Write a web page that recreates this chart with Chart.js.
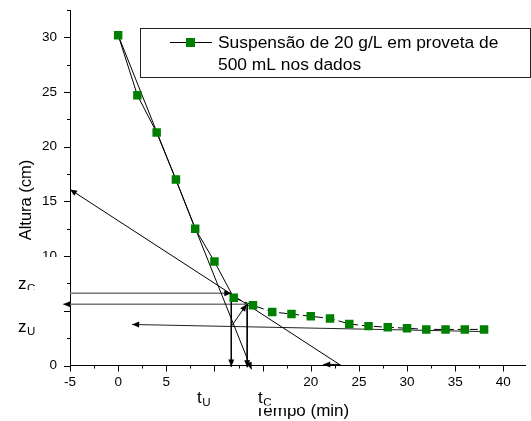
<!DOCTYPE html>
<html>
<head>
<meta charset="utf-8">
<script src="https://cdn.jsdelivr.net/npm/chart.js@4.4.0/dist/chart.umd.min.js"></script>
<style>
html, body { margin: 0; padding: 0; background: #fff; }
</style>
</head>
<body>
<canvas id="chart" width="531" height="421"></canvas>
<script>
// settling test
const timeMin = [0, 2, 4, 6, 8, 10, 12, 14, 16, 18, 20, 22, 24, 26, 28, 30, 32, 34, 36, 38]
const heightCm = [30.2, 24.7, 21.3, 17.0, 12.5, 9.5, 6.2, 5.5, 4.9, 4.7, 4.5, 4.3, 3.8, 3.6, 3.5, 3.4, 3.3, 3.3, 3.3, 3.3]

const xMajor = [-5, 0, 5, 10, 15, 20, 25, 30, 35, 40]
const xLabels = ["-5", "0", "5", "", "", "20", "25", "30", "35", "40"]
const xMinor = [-2.5, 2.5, 7.5, 12.5, 17.5, 22.5, 27.5, 32.5, 37.5]
const yMajor = [0, 5, 10, 15, 20, 25, 30]
const yLabels = ["0", "", "10", "15", "20", "25", "30"]
const yMinor = [2.5, 7.5, 12.5, 17.5, 22.5, 27.5, 32.5]

// construction lines [x, y], arrow drawn at the last point
const initialTangent = [[0, 30.2], [13.85, -0.35]]
const compressionTangent = [[23.15, 0], [-5, 16.1]]
const zcLine = [[-5, 6.6], [11.75, 6.6]]
const tuDrop = [[11.75, 6.6], [11.75, -0.1]]
const zLevel = [[13.4, 5.6], [-5.7, 5.6]]
const tcDrop = [[13.4, 5.6], [13.4, -0.15]]
const bisector = [[11.8, 3.63], [13.35, 5.6]]
const zuLine = [[38.1, 3.1], [1.45, 3.75]]
const axisArrow = [[23.0, 0.1], [21.3, 0.1]]

const FONT = "'Liberation Sans', Arial, sans-serif"
const legendText = ["Suspensão de 20 g/L em proveta de", "500 mL nos dados"]

function guide(points, color, width) {
    return {
        data: points.map(p => ({ x: p[0], y: p[1] })),
        showLine: true, pointRadius: 0, borderColor: color, borderWidth: width,
        clip: false, arrow: true
    }
}

const arrowHeads = {
    id: "arrowHeads",
    afterDatasetsDraw(chart) {
        const ctx = chart.ctx
        chart.data.datasets.forEach((ds, i) => {
            if (!ds.arrow) return
            const pts = chart.getDatasetMeta(i).data
            const a = pts[pts.length - 2], b = pts[pts.length - 1]
            const ang = Math.atan2(b.y - a.y, b.x - a.x)
            ctx.save()
            ctx.translate(b.x, b.y)
            ctx.rotate(ang)
            ctx.beginPath()
            ctx.moveTo(0, 0)
            ctx.lineTo(-7, -3)
            ctx.lineTo(-7, 3)
            ctx.closePath()
            ctx.fillStyle = "#000"
            ctx.fill()
            ctx.restore()
        })
    }
}

function label(ctx, main, sub, x, y) {
    ctx.font = "17px " + FONT
    ctx.fillText(main, x, y)
    const w = ctx.measureText(main).width
    ctx.font = "11.5px " + FONT
    ctx.fillText(sub, x + w + 0.5, y + 3)
}

const decorations = {
    id: "decorations",
    afterDraw(chart) {
        const ctx = chart.ctx
        const xs = chart.scales.x, ys = chart.scales.y
        const area = chart.chartArea
        ctx.save()
        ctx.strokeStyle = "#000"
        ctx.lineWidth = 1
        ctx.beginPath()
        xs.ticks.forEach(t => {
            const px = Math.round(xs.getPixelForValue(t.value)) + 0.5
            const len = xMajor.includes(t.value) ? 6 : 3
            ctx.moveTo(px, area.bottom)
            ctx.lineTo(px, area.bottom + len)
        })
        ys.ticks.forEach(t => {
            const py = Math.round(ys.getPixelForValue(t.value)) + 0.5
            const len = yMajor.includes(t.value) ? 6 : 3
            ctx.moveTo(area.left, py)
            ctx.lineTo(area.left - len, py)
        })
        ctx.stroke()

        // legend
        ctx.strokeStyle = "#222"
        ctx.strokeRect(140.5, 28.5, 390, 49)
        ctx.strokeStyle = "#000"
        ctx.beginPath()
        ctx.moveTo(170, 42.5)
        ctx.lineTo(212, 42.5)
        ctx.stroke()
        ctx.fillStyle = "#008000"
        ctx.fillRect(186, 38, 9, 9)
        ctx.fillStyle = "#000"
        ctx.font = "17.4px " + FONT
        ctx.textAlign = "left"
        ctx.textBaseline = "alphabetic"
        ctx.fillText(legendText[0], 218, 48)
        ctx.fillText(legendText[1], 218, 70)

        // axis titles
        ctx.font = "17px " + FONT
        ctx.textAlign = "center"
        ctx.fillText("Tempo (min)", 302, 416)
        ctx.save()
        ctx.translate(31, 200)
        ctx.rotate(-Math.PI / 2)
        ctx.font = "16.5px " + FONT
        ctx.fillText("Altura (cm)", 0, 0)
        ctx.restore()

        // marker labels
        ctx.textAlign = "left"
        ctx.fillStyle = "#fff"
        ctx.fillRect(8, 257, 54, 33)
        ctx.save()
        ctx.beginPath()
        ctx.rect(8, 257, 54, 33)
        ctx.clip()
        ctx.fillStyle = "#000"
        label(ctx, "z", "C", 18, 289)
        ctx.restore()

        ctx.fillStyle = "#000"
        label(ctx, "z", "U", 18, 332)
        label(ctx, "t", "U", 197, 403)

        ctx.fillStyle = "#fff"
        ctx.fillRect(250, 380, 50, 28)
        ctx.save()
        ctx.beginPath()
        ctx.rect(250, 380, 50, 25.5)
        ctx.clip()
        ctx.fillStyle = "#000"
        label(ctx, "t", "C", 258, 403)
        ctx.restore()
        ctx.restore()
    }
}

const tickFont = { family: FONT, size: 13.5 }

new Chart(document.getElementById("chart").getContext("2d"), {
    type: "scatter",
    data: {
        datasets: [
            {
                label: legendText.join(" "),
                data: timeMin.map((t, i) => ({ x: t, y: heightCm[i] })),
                showLine: true,
                borderColor: "#000",
                borderWidth: 1,
                pointStyle: "rect",
                pointRadius: 6,
                pointBackgroundColor: "#008000",
                pointBorderColor: "#008000",
                pointBorderWidth: 0,
                segment: { borderDash: c => c.p0.parsed.x >= 12 ? [8, 4] : undefined }
            },
            guide(initialTangent, "#000", 1),
            guide(compressionTangent, "#000", 1),
            guide(zcLine, "#777", 1.5),
            guide(tuDrop, "#000", 1),
            guide(zLevel, "#777", 1.5),
            guide(tcDrop, "#000", 1),
            guide(bisector, "#000", 1),
            guide(zuLine, "#222", 1),
            guide(axisArrow, "#000", 1)
        ]
    },
    options: {
        responsive: false,
        animation: false,
        devicePixelRatio: 1,
        layout: { padding: { top: 10, left: 0, right: 0, bottom: 0 } },
        plugins: { legend: { display: false }, tooltip: { enabled: false } },
        scales: {
            x: {
                type: "linear", min: -5, max: 42.25,
                afterBuildTicks: s => { s.ticks = xMajor.concat(xMinor).sort((a, b) => a - b).map(v => ({ value: v })) },
                afterFit: s => { s.height = 55.5; s.paddingLeft = 0; s.paddingRight = 0 },
                grid: { display: false, drawTicks: false },
                border: { display: true, color: "#000", width: 1 },
                ticks: {
                    padding: 9, color: "#000", font: tickFont, maxRotation: 0, autoSkip: false,
                    callback: v => { const i = xMajor.indexOf(v); return i >= 0 ? xLabels[i] : "" }
                }
            },
            y: {
                type: "linear", min: 0, max: 32.5,
                afterBuildTicks: s => { s.ticks = yMajor.concat(yMinor).sort((a, b) => a - b).map(v => ({ value: v })) },
                afterFit: s => { s.width = 70; s.paddingTop = 0; s.paddingBottom = 0 },
                grid: { display: false, drawTicks: false },
                border: { display: true, color: "#000", width: 1 },
                ticks: {
                    padding: 13, color: "#000", font: tickFont, autoSkip: false,
                    callback: v => { const i = yMajor.indexOf(v); return i >= 0 ? yLabels[i] : "" }
                }
            }
        }
    },
    plugins: [arrowHeads, decorations]
})
</script>
</body>
</html>
